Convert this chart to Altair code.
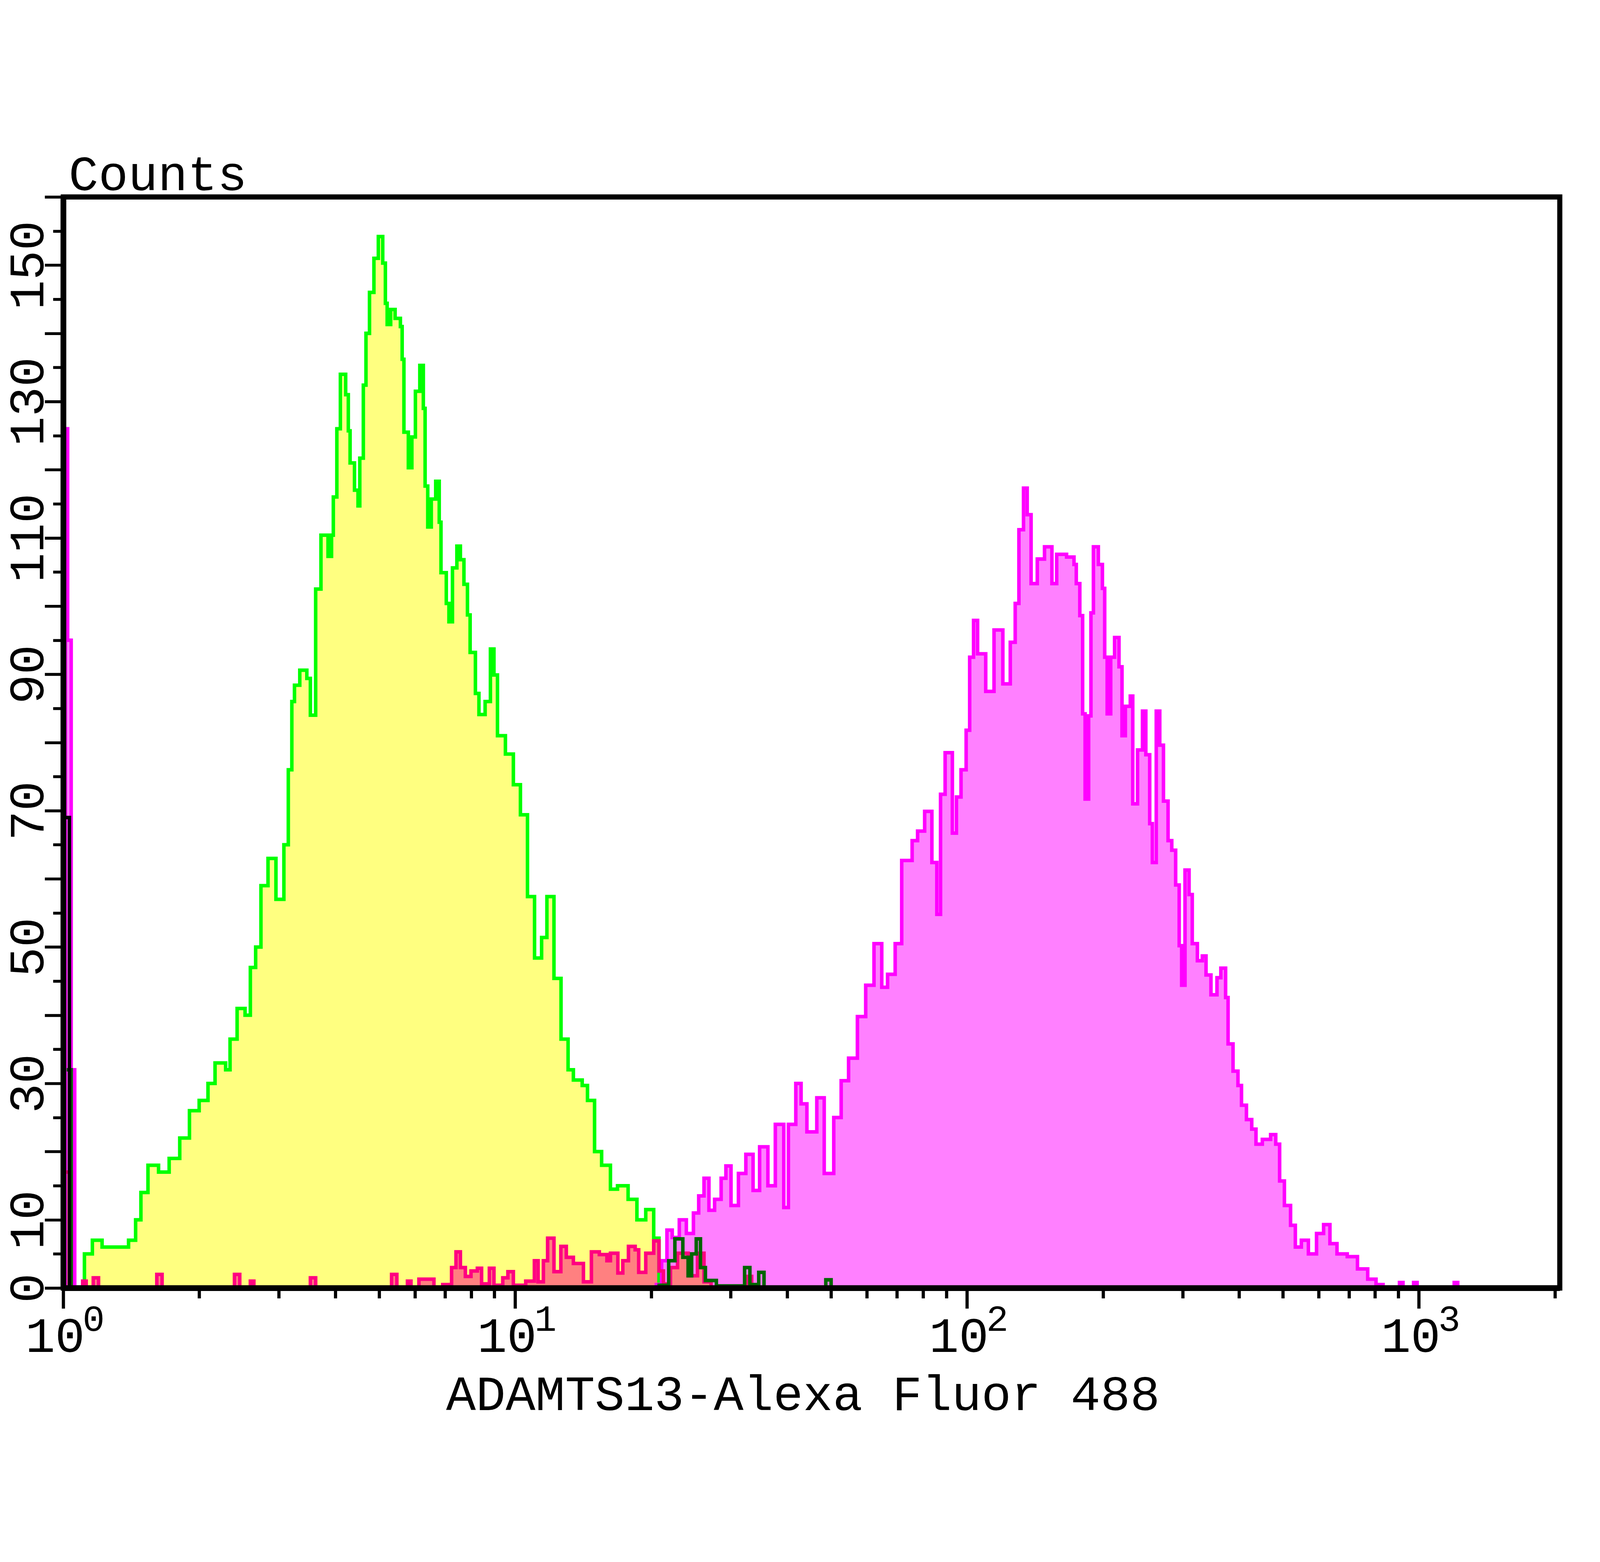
import altair as alt
import pandas as pd

# Histogram channels (256 channels per decade) and counts
green_ch = [8, 12, 16.5, 22, 29, 37, 41, 44, 48, 54, 60, 66, 71.5, 77, 82, 86, 92, 94.5,
            98.5, 103, 106, 109, 112, 116, 120.5, 125, 127.5, 129.5, 131, 134, 138, 140,
            143, 146, 150, 152, 153, 155, 157, 160, 161.5, 162.5, 165, 167, 168, 170,
            171.5, 173.5, 176, 178.5, 181, 182.5, 183.5, 185.5, 188, 191, 192, 193,
            195.5, 197.5, 199.5, 202, 204, 205, 206.5, 208.5, 211, 213, 214, 217, 218.5,
            220.5, 223, 225, 227, 229, 230.5, 233.5, 235.5, 239, 242, 244, 246, 250.5,
            255, 259, 263, 267, 271, 274, 278, 282, 286, 289, 294, 297, 301, 305, 310,
            314, 320, 325, 330, 334.5, 337.5]
green_counts = [0, 5, 7, 6, 6, 7, 10, 14, 18, 17, 19, 22, 26, 27.5, 30, 33, 32, 36.5,
                41, 40, 47, 50, 59, 63, 57, 65, 76, 86, 88.4, 90.6, 89.4, 84,
                102.5, 110.4, 107.3, 110.4, 116, 126, 134, 131, 125.7, 121, 117, 114.7, 121.7, 132.4,
                140, 146, 151, 154.2, 150.3, 144.4, 141.3, 143.5, 142.2, 141, 136.2, 125.5,
                120.3, 124.8, 131.5, 135.3, 129, 117.6, 111.6, 115.7, 118.3, 112.3, 104.9, 100.4, 97.7,
                105.6, 108.8, 106.8, 103.2, 98.7, 93.2, 87.2, 84.1, 86, 93.7, 89.9, 81, 78.3,
                73.8, 69.4, 57.4, 48.4, 51.4, 57.4, 45.4, 36.5, 32, 30.5, 29.7, 27.5, 20, 18, 14.5,
                15, 13, 10, 11.5, 7.3, 0]

magenta_ch = [0.3, 1.2, 2.5, 4.5, 6.5, 336, 339, 342, 345, 349, 353, 357, 360, 363, 365.8,
              369, 372.7, 375.4, 378.3, 382.5, 386.7, 390.8, 394.5, 399.2, 403.4, 408.2,
              410.8, 415, 418, 421.3, 426.9, 431.1, 436.5, 440.7, 444.9, 449.9, 454.6,
              459.3, 463.7, 467, 471.3, 475, 480.9, 484, 488, 492.1, 494.9, 497, 499.6,
              503.7, 506, 508.6, 511.5, 513.5, 515.7, 518, 522.6, 527.3, 532.3, 536.5,
              539.3, 541.4, 544, 546.1, 548.3, 551.8, 555.9, 560.1, 562.8, 568.4, 572.6,
              573.9, 575.9, 577.5, 578.9, 580.9, 582.2, 583.6, 586.4, 588.7, 590, 591.4,
              593.4, 595.6, 598.1, 599.8, 601.7, 604.5, 605.9, 608.6, 611.4, 613.3, 615.5,
              617, 619.2, 621.2, 623.3, 625.9, 628, 630.2, 632.2, 633.6, 635.5, 637.8,
              639.6, 642.5, 645.3, 647.4, 650.2, 653.6, 655.8, 658.5, 659.9, 662.7, 665.5,
              667.5, 670.3, 673.3, 675.7, 679.3, 684, 686.9, 689.1, 691.8, 695.3, 698,
              701.4, 705.4, 710, 714, 717.6, 721.6, 727.4, 733.2, 739, 743.7, 747.7, 757,
              759, 765, 767, 788, 790, 800]
magenta_counts = [0, 126, 95, 32, 0, 0.5, 4, 8.5, 7.4, 10, 8, 11, 13.5, 16.1, 11.4,
                  13, 16.1, 17.9, 12.1, 16.8, 19.6, 14.3, 20.7, 15, 24, 11.8,
                  24, 30, 27, 22.9, 27.9, 16.8, 25, 30.4, 33.7, 39.8, 44.4,
                  50.5, 44.1, 46, 50.5, 62.7, 65.6, 67, 69.9, 62.4, 54.8, 72.4, 78.5,
                  66.7, 72, 76, 81.8, 92.5, 97.9, 93, 87.5, 96.5, 88.6, 94.7,
                  100.4, 111.2, 117.3, 113.4, 103.3, 106.9, 108.7, 103.3, 107.6, 107.2, 106.1,
                  103.3, 98.6, 84.2, 71.7, 83.9, 99, 108.7, 106.1, 102.6, 92.5, 84.2,
                  92.5, 95.4, 91.1, 81, 85.3, 86.8, 71, 78.9, 84.6, 78.2, 68.1,
                  62.4, 84.6, 79.6, 71.4, 65.6, 64.2, 59.1, 50.2, 44.4, 61.3, 57.7,
                  50.5, 48, 48.7, 45.9, 43, 45.5, 46.9, 42.6, 35.8, 31.8, 29.7,
                  26.8, 24.7, 23.3, 21.1, 21.8, 22.5, 21.1, 15.7, 12.1, 9.2, 6,
                  7, 5, 8, 9.3, 6.5, 5, 4.6, 2.8, 1.3, 0.5, 0, 0.8,
                  0, 0.8, 0, 0.8, 0, 0]

red_ch = [1.5, 4.5, 11, 13, 17, 20, 53, 56, 97, 100, 106, 108, 140, 143, 186, 189, 195,
          197, 201.5, 210, 215, 220, 222.5, 225, 227.8, 231, 234.6, 237, 241.4, 244,
          249, 251.9, 255, 262, 266.9, 269, 272, 274.4, 278, 281.9, 285, 289, 294.7,
          299.2, 303.7, 308, 310, 314.2, 317, 320.2, 324, 326, 330, 334.5, 337.5, 340,
          344, 348, 354, 359.3, 363, 367, 387, 390, 420]
red_counts = [17, 0, 1, 0, 1.5, 0, 2, 0, 2, 0, 1, 0, 1.5, 0, 2, 0, 1,
              0, 1.3, 0, 0.5, 3, 5.3, 3, 1.7, 2.5, 2.9, 0.6, 2.9, 0.4,
              1.5, 2.4, 0.4, 1, 4, 0.9, 4, 7.3, 2.4, 6.1, 4.5, 3.6, 0.9,
              5.3, 4.9, 4, 5.1, 2.2, 4, 6.1, 5.6, 2.3, 5.1, 6.9, 2.5, 0.6,
              3, 5.1, 1.8, 5.1, 0.9, 0, 1.7, 0, 0]

darkgreen_ch = [2, 4.5, 337.6, 343, 346.5, 351, 354, 356, 358.6, 361, 363.8, 370, 386,
                389, 394, 397, 432, 435, 480]
darkgreen_counts = [32, 0, 0.4, 4, 7.2, 4.5, 1.8, 5, 7.2, 3, 1.1, 0.3, 3,
                    0.5, 2.3, 0, 1.2, 0, 0]

black_ch = [0.5, 3.5]
black_counts = [69, 0]

decades = [1, 10, 100, 1000]
exponents = ["0", "1", "2", "3"]
x_ticks = [1, 2, 3, 4, 5, 6, 7, 8, 9, 10, 20, 30, 40, 50, 60, 70, 80, 90,
           100, 200, 300, 400, 500, 600, 700, 800, 900, 1000, 2000]
y_ticks = list(range(0, 161, 5))

FONT = "Liberation Mono"
W, H = 4680, 3413


def histogram(ch, counts):
    df = pd.DataFrame({"channel": ch, "count": counts})
    df["intensity"] = 10 ** (df["channel"] / 256)
    return df


x_axis = alt.Axis(
    values=x_ticks, grid=False, zindex=1,
    domainColor="black", domainWidth=18,
    tickColor="black", tickWidth=10,
    tickSize={"condition": {"test": "indexof([1,10,100,1000], datum.value) >= 0", "value": 64}, "value": 32},
    labelExpr="indexof([1,10,100,1000], datum.value) >= 0 ? '10' : ''",
    labelFont=FONT, labelFontSize=155, labelColor="black", labelOffset=-26, labelLimit=0,
    labelBaseline="alphabetic", labelPadding=135, labelFlush=False, labelOverlap=False,
    title="ADAMTS13-Alexa Fluor 488", titleFont=FONT, titleFontSize=155, titleLimit=0,
    titleFontWeight="normal", titleColor="black", titleX=2313, titleY=381,
    titleAlign="center", titleBaseline="alphabetic",
)
y_axis = alt.Axis(
    values=y_ticks, grid=False, zindex=1,
    domainColor="black", domainWidth=18,
    tickColor="black", tickWidth=9,
    tickSize={"condition": {"test": "datum.value % 10 == 0", "value": 58}, "value": 32},
    labelExpr="datum.value == 0 || datum.value % 20 == 10 ? datum.label : ''",
    labelFont=FONT, labelFontSize=155, labelColor="black", labelAngle=270, labelLimit=0,
    labelAlign="center", labelBaseline="alphabetic", labelPadding=5,
    labelFlush=False, labelOverlap=False, title=None,
)

x_enc = alt.X("intensity:Q", scale=alt.Scale(type="log", domain=[1, 2050], nice=False), axis=x_axis)
y_enc = alt.Y("count:Q", scale=alt.Scale(domain=[0, 160], nice=False), axis=y_axis)


def area(df, color):
    return alt.Chart(df).mark_area(interpolate="step-after", color=color, opacity=1, clip=True).encode(x=x_enc, y=y_enc)


def line(df, color):
    return alt.Chart(df).mark_line(interpolate="step-after", color=color, strokeWidth=11, clip=True).encode(x=x_enc, y=y_enc)


green = histogram(green_ch, green_counts)
magenta = histogram(magenta_ch, magenta_counts)
red = histogram(red_ch, red_counts)
darkgreen = histogram(darkgreen_ch, darkgreen_counts)
black = histogram(black_ch, black_counts)

exp_df = pd.DataFrame({"intensity": decades, "exp": exponents})
exp_text = alt.Chart(exp_df).mark_text(
    font=FONT, fontSize=115, color="black", align="center", baseline="alphabetic", dx=95
).encode(x=x_enc, y=alt.value(3547), text="exp:N")

counts_title = alt.Chart(pd.DataFrame({"label": ["Counts"]})).mark_text(
    font=FONT, fontSize=155, color="black", align="left", baseline="alphabetic"
).encode(x=alt.value(17), y=alt.value(-21), text="label:N")

chart = alt.layer(
    area(green, "#FFFF80"),
    area(magenta, "#FF80FF"),
    area(red, "#FF8080"),
    line(green, "#00FF00"),
    line(magenta, "#FF00FF"),
    line(red, "#FF0080"),
    line(darkgreen, "#006400"),
    line(black, "#000000"),
    exp_text,
    counts_title,
).properties(
    width=W, height=H,
    autosize=alt.AutoSizeParams(type="none"),
    padding={"left": 188, "top": 165, "right": 116, "bottom": 406},
    background="white",
).configure_view(stroke="black", strokeWidth=16)

chart.save("out.html", embed_options={"renderer": "svg", "actions": False})
